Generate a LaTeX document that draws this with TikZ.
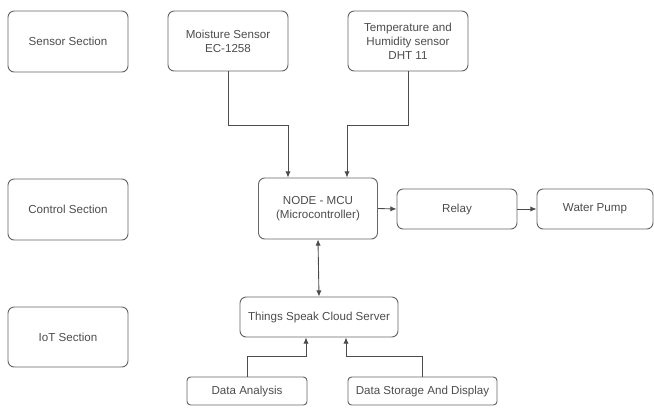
\documentclass[tikz,border=0pt]{standalone}
\usepackage{fontspec}
\setmainfont{Liberation Sans}
\usetikzlibrary{arrows.meta}
\tikzset{
  blk/.style={draw=black!60, line width=0.55pt, rounded corners=3.5pt, align=center,
    text=black!70, font=\fontsize{6.6}{8}\selectfont, inner sep=1pt},
  link/.style={draw=black!70, line width=0.5pt, -{Latex[length=3.5pt,width=3pt]}},
}
\begin{document}
\begin{tikzpicture}[x=0.02cm, y=-0.02cm]
 \useasboundingbox (0,0) rectangle (654,407);
 % section labels
 \node [blk, minimum width=2.4cm, minimum height=1.22cm] (sensorsec) at (68,41.5) {Sensor Section};
 \node [blk, minimum width=2.4cm, minimum height=1.22cm] (controlsec) at (68,209.5) {Control Section};
 \node [blk, minimum width=2.4cm, minimum height=1.2cm] (iotsec) at (68,337) {IoT Section};
 % sensors
 \node [blk, minimum width=2.4cm, minimum height=1.2cm] (moist) at (228,41) {Moisture Sensor\\EC-1258};
 \node [blk, minimum width=2.4cm, minimum height=1.2cm] (temp) at (408,41) {Temperature and\\Humidity sensor\\DHT 11};
 % control
 \node [blk, minimum width=2.38cm, minimum height=1.22cm] (mcu) at (318,208.5) {NODE - MCU\\(Microcontroller)};
 \node [blk, minimum width=2.4cm, minimum height=0.8cm] (relay) at (457,209) {Relay};
 \node [blk, minimum width=2.32cm, minimum height=0.8cm] (pump) at (595,209) {Water Pump};
 % iot
 \node [blk, minimum width=3.16cm, minimum height=0.8cm] (things) at (319,317) {Things Speak Cloud Server};
 \node [blk, rounded corners=2pt, minimum width=2.4cm, minimum height=0.56cm] (analysis) at (247,391) {Data Analysis};
 \node [blk, rounded corners=2pt, minimum width=2.98cm, minimum height=0.56cm] (storage) at (422.5,391) {Data Storage And Display};
 % connectors
 \draw [link] (moist.south) -- ++(0,54) -| ([xshift=-0.6cm]mcu.north);
 \draw [link] (temp.south) -- ++(0,54) -| ([xshift=0.58cm]mcu.north);
 \draw [link] (mcu.east) -- (relay.west);
 \draw [link] (relay.east) -- (pump.west);
 \draw [link, {Latex[length=3.5pt,width=3pt]}-{Latex[length=3.5pt,width=3pt]}] (mcu.south) -- (things.north);
 \draw [link] (analysis.north) -- ++(0,-20) -| ([xshift=-0.26cm]things.south);
 \draw [link] (storage.north) -- ++(0,-20) -| ([xshift=0.54cm]things.south);
\end{tikzpicture}
\end{document}
